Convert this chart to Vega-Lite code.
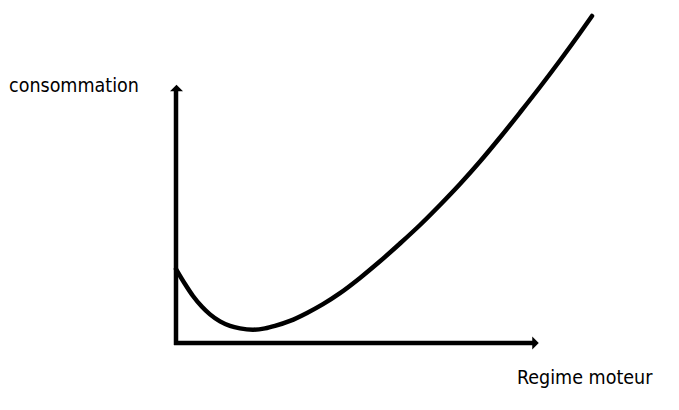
{
  "$schema": "https://vega.github.io/schema/vega-lite/v6.json",
  "width": 679,
  "height": 410,
  "autosize": {"type": "none"},
  "padding": 0,
  "background": "white",
  "config": {"view": {"stroke": null}},
  "datasets": {
    "axes": [
      {"x": 0, "y": -2, "x2": 0, "y2": 253},
      {"x": -2, "y": 0, "x2": 357, "y2": 0}
    ],
    "arrowUp": [{"x": 0.5, "y": 255}],
    "arrowRight": [{"x": 359.5, "y": 0}],
    "curve": [
      {"regime": 0, "conso": 74},
      {"regime": 9, "conso": 59},
      {"regime": 17, "conso": 47},
      {"regime": 26, "conso": 36.2},
      {"regime": 34, "conso": 28.6},
      {"regime": 44, "conso": 21.6},
      {"regime": 54, "conso": 17.1},
      {"regime": 64, "conso": 14.6},
      {"regime": 77, "conso": 13.3},
      {"regime": 89, "conso": 14.6},
      {"regime": 99, "conso": 17.1},
      {"regime": 114, "conso": 22.1},
      {"regime": 131, "conso": 30.1},
      {"regime": 147, "conso": 38.9},
      {"regime": 164, "conso": 49.9},
      {"regime": 184, "conso": 65.1},
      {"regime": 204, "conso": 81.7},
      {"regime": 224, "conso": 99.5},
      {"regime": 244, "conso": 118},
      {"regime": 264, "conso": 138},
      {"regime": 284, "conso": 159},
      {"regime": 304, "conso": 181.5},
      {"regime": 324, "conso": 205.5},
      {"regime": 344, "conso": 230.5},
      {"regime": 364, "conso": 256},
      {"regime": 384, "conso": 282.5},
      {"regime": 404, "conso": 310},
      {"regime": 416, "conso": 327}
    ],
    "labels": [
      {"x": -167, "y": 251, "label": "consommation"},
      {"x": 341, "y": -41, "label": "Regime moteur"}
    ]
  },
  "layer": [
    {
      "data": {"name": "axes"},
      "mark": {"type": "rule", "color": "black", "strokeWidth": 4.5, "strokeCap": "butt"},
      "encoding": {
        "x": {"field": "x", "type": "quantitative", "scale": {"domain": [-176, 503]}, "axis": null},
        "y": {"field": "y", "type": "quantitative", "scale": {"domain": [-67, 343]}, "axis": null},
        "x2": {"field": "x2"},
        "y2": {"field": "y2"}
      }
    },
    {
      "data": {"name": "arrowUp"},
      "mark": {"type": "point", "shape": "M-1,0.5L1,0.5L0,-0.5Z", "filled": true, "color": "black", "opacity": 1, "size": 169, "strokeWidth": 0},
      "encoding": {
        "x": {"field": "x", "type": "quantitative", "scale": {"domain": [-176, 503]}, "axis": null},
        "y": {"field": "y", "type": "quantitative", "scale": {"domain": [-67, 343]}, "axis": null}
      }
    },
    {
      "data": {"name": "arrowRight"},
      "mark": {"type": "point", "shape": "M-0.5,-1L0.5,0L-0.5,1Z", "filled": true, "color": "black", "opacity": 1, "size": 169, "strokeWidth": 0},
      "encoding": {
        "x": {"field": "x", "type": "quantitative", "scale": {"domain": [-176, 503]}, "axis": null},
        "y": {"field": "y", "type": "quantitative", "scale": {"domain": [-67, 343]}, "axis": null}
      }
    },
    {
      "data": {"name": "curve"},
      "mark": {"type": "line", "color": "black", "strokeWidth": 4.5, "interpolate": "monotone", "strokeCap": "round"},
      "encoding": {
        "x": {"field": "regime", "type": "quantitative", "scale": {"domain": [-176, 503]}, "axis": null},
        "y": {"field": "conso", "type": "quantitative", "scale": {"domain": [-67, 343]}, "axis": null}
      }
    },
    {
      "data": {"name": "labels"},
      "mark": {"type": "text", "align": "left", "baseline": "alphabetic", "font": "DejaVu Sans Condensed", "fontSize": 19.5, "color": "black"},
      "encoding": {
        "x": {"field": "x", "type": "quantitative", "scale": {"domain": [-176, 503]}, "axis": null},
        "y": {"field": "y", "type": "quantitative", "scale": {"domain": [-67, 343]}, "axis": null},
        "text": {"field": "label"}
      }
    }
  ]
}
